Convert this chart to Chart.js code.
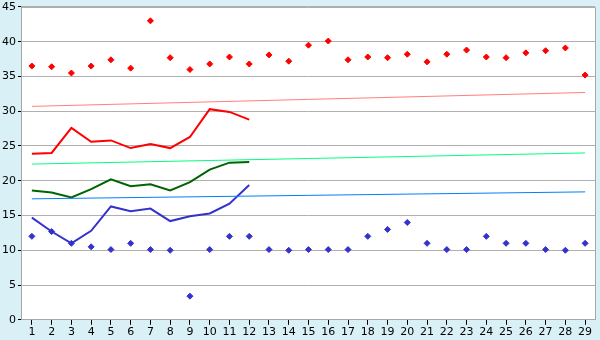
<!DOCTYPE html>
<html>
<head>
<meta charset="utf-8">
<script src="https://cdn.jsdelivr.net/npm/chart.js@4"></script>
<style>
  html, body { margin: 0; padding: 0; background: #daf0f7; }
  #wrap { width: 600px; height: 340px; }
</style>
</head>
<body>
<div id="wrap"><canvas id="chart" width="600" height="340"></canvas></div>
<script>
// dias del mes
const days = ['1','2','3','4','5','6','7','8','9','10','11','12','13','14','15','16','17','18','19','20','21','22','23','24','25','26','27','28','29'];

// maximas y minimas diarias (puntos)
const maxPoints = [36.5, 36.4, 35.5, 36.5, 37.4, 36.2, 43.0, 37.7, 36.0, 36.8, 37.8, 36.8, 38.1, 37.2, 39.5, 40.1, 37.4, 37.8, 37.7, 38.2, 37.1, 38.2, 38.8, 37.8, 37.7, 38.4, 38.7, 39.1, 35.2];
const minPoints = [12.0, 12.7, 11.0, 10.5, 10.1, 11.0, 10.1, 10.0, 3.4, 10.1, 12.0, 12.0, 10.1, 10.0, 10.1, 10.1, 10.1, 12.0, 13.0, 14.0, 11.0, 10.1, 10.1, 12.0, 11.0, 11.0, 10.1, 10.0, 11.0];

// lineas de los primeros 12 dias
const maxLine = [23.9, 24.0, 27.6, 25.6, 25.8, 24.7, 25.3, 24.7, 26.3, 30.3, 29.9, 28.8];
const meanLine = [18.6, 18.3, 17.6, 18.8, 20.2, 19.2, 19.5, 18.6, 19.8, 21.6, 22.6, 22.7];
const minLine = [14.7, 12.7, 11.0, 12.8, 16.3, 15.6, 16.0, 14.2, 14.9, 15.3, 16.7, 19.4];

// tendencias: valor al inicio y al final
const maxTrend = [30.7, 32.7];
const meanTrend = [22.4, 24.0];
const minTrend = [17.4, 18.4];

const yTicks = [0, 5, 10, 15, 20, 25, 30, 35, 40, 45];

function ends(pair) {
  const arr = days.map(() => null);
  arr[0] = pair[0];
  arr[arr.length - 1] = pair[1];
  return arr;
}

const plotBg = {
  id: 'plotBg',
  beforeDraw(chart) {
    const { ctx, chartArea: a } = chart;
    ctx.save();
    ctx.fillStyle = '#daf0f7';
    ctx.fillRect(0, 0, chart.width, chart.height);
    ctx.fillStyle = '#ffffff';
    ctx.fillRect(a.left, a.top, a.right - a.left, a.bottom - a.top);
    ctx.restore();
  },
  afterDraw(chart) {
    const { ctx, chartArea: a } = chart;
    ctx.save();
    ctx.strokeStyle = '#a8a8a8';
    ctx.lineWidth = 1;
    ctx.beginPath();
    ctx.moveTo(a.left, a.top + 0.5);
    ctx.lineTo(a.right + 0.5, a.top + 0.5);
    ctx.lineTo(a.right + 0.5, a.bottom);
    ctx.stroke();
    ctx.restore();
  }
};

const pointStyle = { showLine: false, pointStyle: 'rectRot', pointRadius: 3, pointBorderWidth: 1 };
const trendStyle = { borderWidth: 1, pointRadius: 0, spanGaps: true, fill: false };

new Chart(document.getElementById('chart'), {
  type: 'line',
  data: {
    labels: days,
    datasets: [
      { data: ends(maxTrend), borderColor: '#ff8080', ...trendStyle },
      { data: ends(meanTrend), borderColor: '#00ff80', ...trendStyle },
      { data: ends(minTrend), borderColor: '#0080ff', ...trendStyle },
      { data: maxLine, borderColor: '#ff0000', borderWidth: 2, pointRadius: 0 },
      { data: meanLine, borderColor: '#006400', borderWidth: 2, pointRadius: 0 },
      { data: minLine, borderColor: '#3333cc', borderWidth: 2, pointRadius: 0 },
      { data: maxPoints, borderColor: '#ff0000', backgroundColor: '#ff0000', ...pointStyle },
      { data: minPoints, borderColor: '#3333cc', backgroundColor: '#3333cc', ...pointStyle }
    ]
  },
  options: {
    responsive: false,
    animation: false,
    layout: { padding: { left: 0, right: 5, top: 0, bottom: 0 } },
    plugins: { legend: { display: false }, tooltip: { enabled: false } },
    elements: { line: { tension: 0 } },
    scales: {
      x: {
        offset: true,
        grid: { offset: false, drawOnChartArea: false, color: '#000000', tickLength: 5 },
        border: { color: '#a8a8a8' },
        ticks: { color: '#000000', font: { family: 'DejaVu Sans', size: 11 }, padding: 1, maxRotation: 0, autoSkip: false }
      },
      y: {
        min: 0,
        max: 45,
        afterBuildTicks(scale) { scale.ticks = yTicks.map(v => ({ value: v })); },
        grid: { color: '#b0b0b0', tickLength: 4, tickColor: '#000000' },
        border: { color: '#a8a8a8' },
        ticks: { color: '#000000', font: { family: 'DejaVu Sans', size: 11, lineHeight: 0.9 }, padding: 2 }
      }
    }
  },
  plugins: [plotBg]
});
</script>
</body>
</html>
